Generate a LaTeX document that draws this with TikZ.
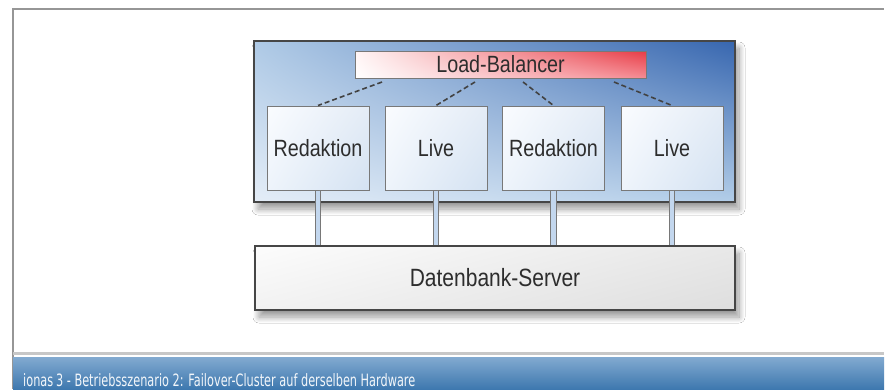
\documentclass[tikz,border=0pt]{standalone}
\usepackage{fontspec}
\setmainfont{Liberation Sans}
\newfontfamily\diagfont{Liberation Sans}[FakeStretch=0.84]
\newfontfamily\footfont{DejaVu Sans}[FakeStretch=0.665]
\usetikzlibrary{shadows.blur,shadings}
\definecolor{txt}{RGB}{45,45,45}
\definecolor{frameg}{RGB}{150,150,150}
\definecolor{boxborder}{RGB}{120,120,120}
\definecolor{contborder}{RGB}{70,70,70}
\definecolor{pipeblue}{RGB}{195,215,238}
\definecolor{bandtop}{RGB}{130,170,208}
\definecolor{bandbot}{RGB}{62,120,175}
\definecolor{foottxt}{RGB}{242,246,250}
\definecolor{cUL}{RGB}{175,202,230}
\definecolor{cUR}{RGB}{55,102,175}
\definecolor{cLL}{RGB}{228,237,247}
\definecolor{cLR}{RGB}{178,205,232}
\definecolor{lUL}{RGB}{255,245,245}
\definecolor{lUR}{RGB}{232,60,70}
\definecolor{lLL}{RGB}{255,255,255}
\definecolor{lLR}{RGB}{245,140,148}
\definecolor{sUL}{RGB}{250,252,255}
\definecolor{sUR}{RGB}{228,236,246}
\definecolor{sLL}{RGB}{238,244,251}
\definecolor{sLR}{RGB}{212,226,242}
\definecolor{gUL}{RGB}{252,252,252}
\definecolor{gUR}{RGB}{232,232,232}
\definecolor{gLL}{RGB}{242,242,242}
\definecolor{gLR}{RGB}{222,222,222}
\tikzset{
  shadowed/.style={blur shadow={shadow xshift=4pt, shadow yshift=-7pt, shadow blur steps=12, shadow blur radius=6pt, shadow opacity=40}},
  container/.style={draw=contborder, line width=1.4pt, inner sep=0pt,
    shade, upper left=cUL, upper right=cUR, lower left=cLL, lower right=cLR, shadowed},
  lbbox/.style={draw=boxborder, line width=1pt, inner sep=0pt,
    shade, upper left=lUL, upper right=lUR, lower left=lLL, lower right=lLR,
    minimum width=291pt, minimum height=27pt, font=\diagfont\fontsize{23.5}{23.5}\selectfont, text=txt},
  srvbox/.style={draw=boxborder, line width=1pt, inner sep=0pt,
    shade, upper left=sUL, upper right=sUR, lower left=sLL, lower right=sLR,
    minimum width=102pt, minimum height=84pt, font=\diagfont\fontsize{23.5}{23.5}\selectfont, text=txt},
  dbbox/.style={draw=contborder, line width=1.4pt, inner sep=0pt,
    shade, upper left=gUL, upper right=gUR, lower left=gLL, lower right=gLR,
    minimum width=480pt, minimum height=64pt, font=\diagfont\fontsize{25}{25}\selectfont, text=txt, shadowed},
  lbline/.style={draw=txt!90, line width=1.6pt, dash pattern=on 5pt off 3pt},
  pipe/.style={draw=boxborder, line width=0.9pt, double=pipeblue, double distance=4.5pt},
}
\begin{document}
\begin{tikzpicture}[x=1pt,y=-1pt]
\useasboundingbox (0,0) rectangle (888,389);
\fill[white] (0,0) rectangle (888,389);
% outer frame
\draw[frameg, line width=1.5pt] (13,389) -- (13,9) -- (884,9);
\fill[black!22] (13,352) rectangle (884,355);
\shade[top color=bandtop, bottom color=bandbot] (13,357) rectangle (884,389);
\node[anchor=base west, text=foottxt, font=\footfont\fontsize{17}{17}\selectfont, inner sep=0pt] (cap) at (23,386) {ionas\,3 - Betriebsszenario 2: Failover-Cluster auf derselben Hardware};
% container
\node[container, minimum width=481pt, minimum height=161pt] (cont) at (494.5,121.5) {};
\node[dbbox] (db) at (495,278) {Datenbank-Server};
\node[lbbox] (lb) at (500.5,64.5) {Load-Balancer};
\node[srvbox] (r1) at (318,148) {Redaktion};
\node[srvbox] (l1) at (436,148) {Live};
\node[srvbox] (r2) at (553.5,148) {Redaktion};
\node[srvbox] (l2) at (672,148) {Live};
% dashed links
\coordinate (d1) at (382,82);
\coordinate (d2) at (475,82);
\coordinate (d3) at (523,82);
\coordinate (d4) at (614,82);
\draw[lbline] (d1) -- (r1.north);
\draw[lbline] (d2) -- (l1.north);
\draw[lbline] (d3) -- (r2.north);
\draw[lbline] (d4) -- (l2.north);
% pipes
\draw[pipe] (r1.south) -- (r1.south |- db.north);
\draw[pipe] (l1.south) -- (l1.south |- db.north);
\draw[pipe] (r2.south) -- (r2.south |- db.north);
\draw[pipe] (l2.south) -- (l2.south |- db.north);
\end{tikzpicture}
\end{document}
